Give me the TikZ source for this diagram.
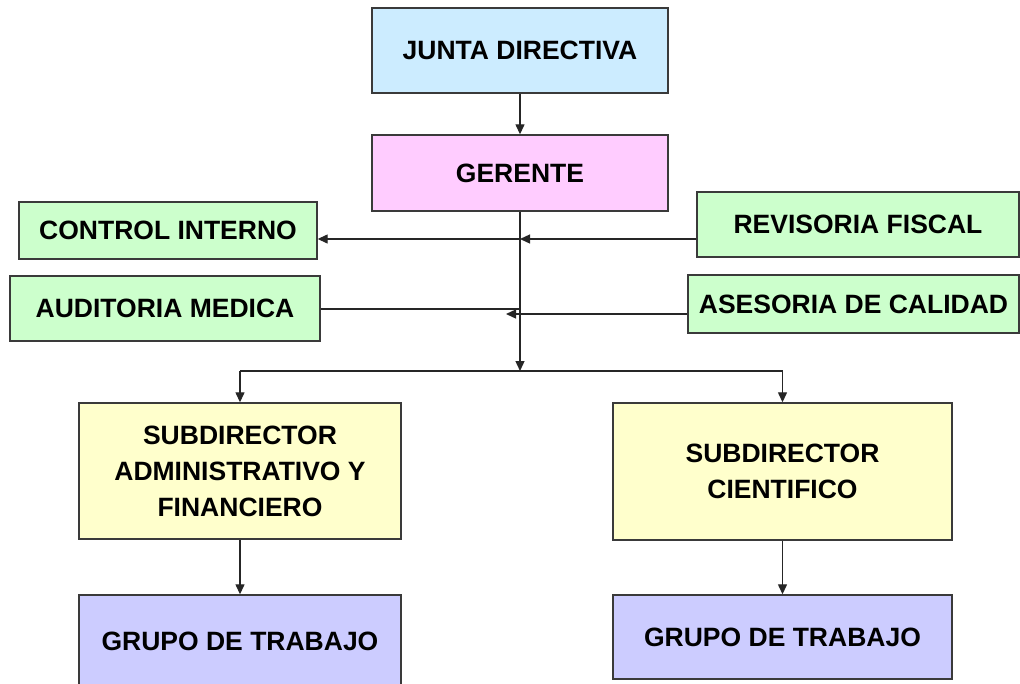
\documentclass[tikz,border=0pt]{standalone}
\usepackage{fontspec}
\setmainfont{Liberation Sans}
\usetikzlibrary{arrows.meta,calc}
\definecolor{cblue}{HTML}{CCECFF}
\definecolor{cpink}{HTML}{FFCCFF}
\definecolor{cgreen}{HTML}{CCFFCC}
\definecolor{cyellow}{HTML}{FFFFCC}
\definecolor{clav}{HTML}{CCCCFF}
\definecolor{cedge}{HTML}{3A3A3A}
\tikzset{
  box/.style={draw=cedge, line width=1.4pt, inner sep=0pt, align=center,
    font=\bfseries\fontsize{26.5}{36}\selectfont, text=black},
  conn/.style={draw=black!85, line width=1.3pt},
  arr/.style={conn, -{Triangle[length=10pt,width=9pt]}},
}
\begin{document}
\begin{tikzpicture}[x=1pt,y=-1pt]
\useasboundingbox (0,0) rectangle (1020,683);
\fill[white] (0,0) rectangle (1020,683);
\node[box, fill=cblue, minimum width=296pt, minimum height=85pt] (jd) at (520,50.5) {JUNTA DIRECTIVA};
\node[box, fill=cpink, minimum width=296pt, minimum height=76pt] (ger) at (520,173) {GERENTE};
\node[box, fill=cgreen, minimum width=298pt, minimum height=57pt] (ci) at (168,230.5) {CONTROL INTERNO};
\node[box, fill=cgreen, minimum width=310pt, minimum height=65pt] (am) at (165,308.5) {AUDITORIA MEDICA};
\node[box, fill=cgreen, minimum width=322pt, minimum height=65pt] (rf) at (858,224.5) {REVISORIA FISCAL};
\node[box, fill=cgreen, minimum width=331pt, minimum height=58pt] (ac) at (853.5,304) {ASESORIA DE CALIDAD};
\node[box, fill=cyellow, minimum width=322pt, minimum height=136pt] (sa) at (240,471) {SUBDIRECTOR\\ADMINISTRATIVO Y\\FINANCIERO};
\node[box, fill=cyellow, minimum width=339pt, minimum height=137pt] (sc) at (782.5,471.5) {SUBDIRECTOR\\CIENTIFICO};
\node[box, fill=clav, minimum width=322pt, minimum height=93pt] (ga) at (240,641.5) {GRUPO DE TRABAJO};
\node[box, fill=clav, minimum width=339pt, minimum height=84pt] (gc) at (782.5,637) {GRUPO DE TRABAJO};
\coordinate (bus) at (520,371);
\coordinate (j1) at (520,239);
\coordinate (j2) at (520,309);
\coordinate (j3) at (506,314);
\draw[arr] (jd) -- (ger);
\draw[arr] (ger.south) -- (bus);
\draw[arr] (j1 -| rf.west) -- (j1);
\draw[arr] (j1) -- (j1 -| ci.east);
\draw[conn] (j2 -| am.east) -- (j2);
\draw[arr] (j3 -| ac.west) -- (j3);
\draw[conn] (sa.north |- bus) -- (sc.north |- bus);
\draw[arr] (sa.north |- bus) -- (sa.north);
\draw[arr] (sc.north |- bus) -- (sc.north);
\draw[arr] (sa) -- (ga);
\draw[arr] (sc) -- (gc);
\end{tikzpicture}
\end{document}
